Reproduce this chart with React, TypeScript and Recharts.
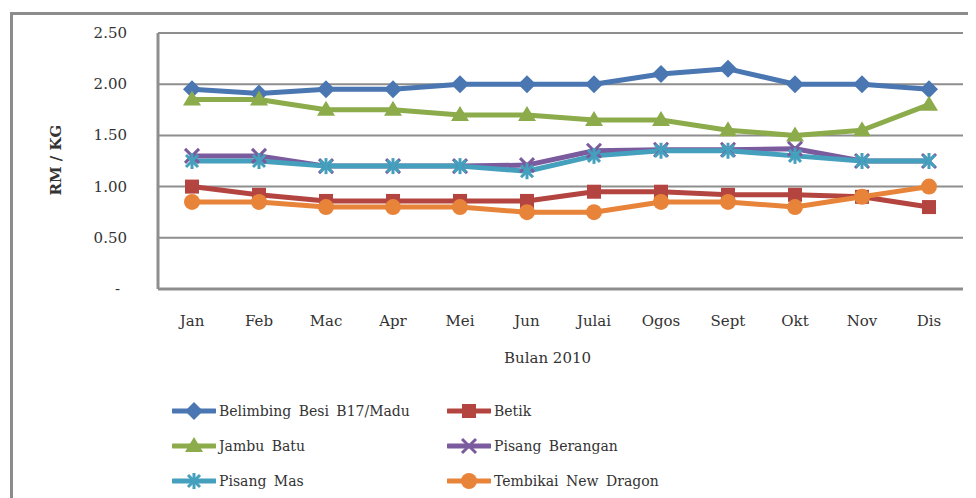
import { LineChart, Line, XAxis, YAxis, CartesianGrid } from "recharts";

const months = ["Jan", "Feb", "Mac", "Apr", "Mei", "Jun", "Julai", "Ogos", "Sept", "Okt", "Nov", "Dis"];
const belimbing = [1.95, 1.91, 1.95, 1.95, 2.0, 2.0, 2.0, 2.1, 2.15, 2.0, 2.0, 1.95];
const betik = [1.0, 0.92, 0.86, 0.86, 0.86, 0.86, 0.95, 0.95, 0.92, 0.92, 0.9, 0.8];
const jambuBatu = [1.85, 1.85, 1.75, 1.75, 1.7, 1.7, 1.65, 1.65, 1.55, 1.5, 1.55, 1.8];
const pisangBerangan = [1.3, 1.3, 1.2, 1.2, 1.2, 1.21, 1.35, 1.36, 1.36, 1.37, 1.25, 1.25];
const pisangMas = [1.25, 1.25, 1.2, 1.2, 1.2, 1.15, 1.3, 1.35, 1.35, 1.3, 1.25, 1.25];
const tembikai = [0.85, 0.85, 0.8, 0.8, 0.8, 0.75, 0.75, 0.85, 0.85, 0.8, 0.9, 1.0];
const yTicks = [0, 0.5, 1, 1.5, 2, 2.5];

const series = [
  { key: "belimbing", name: "Belimbing Besi B17/Madu", color: "#4a76b2", shape: "diamond", values: belimbing },
  { key: "betik", name: "Betik", color: "#b3443f", shape: "square", values: betik },
  { key: "jambu", name: "Jambu Batu", color: "#8cab4a", shape: "triangle", values: jambuBatu },
  { key: "berangan", name: "Pisang Berangan", color: "#7a5b9e", shape: "cross", values: pisangBerangan },
  { key: "mas", name: "Pisang Mas", color: "#44a0bd", shape: "star", values: pisangMas },
  { key: "tembikai", name: "Tembikai New Dragon", color: "#e8843a", shape: "circle", values: tembikai },
];

const chartData = months.map((m, i) => {
  const row: Record<string, string | number> = { month: m };
  series.forEach((s) => (row[s.key] = s.values[i]));
  return row;
});

const FONT = "'DejaVu Serif', serif";
const GRID = "#8e8e8e";

function Marker({ shape, color, cx, cy }: { shape: string; color: string; cx: number; cy: number }) {
  if (cx == null || cy == null) return null;
  switch (shape) {
    case "diamond":
      return <polygon points={`${cx},${cy - 9} ${cx + 9},${cy} ${cx},${cy + 9} ${cx - 9},${cy}`} fill={color} />;
    case "square":
      return <rect x={cx - 7} y={cy - 7} width={14} height={14} fill={color} />;
    case "triangle":
      return <polygon points={`${cx},${cy - 9} ${cx + 9},${cy + 6} ${cx - 9},${cy + 6}`} fill={color} />;
    case "circle":
      return <circle cx={cx} cy={cy} r={8} fill={color} />;
    case "cross":
      return (
        <g stroke={color} strokeWidth={3}>
          <line x1={cx - 7} y1={cy - 7} x2={cx + 7} y2={cy + 7} />
          <line x1={cx - 7} y1={cy + 7} x2={cx + 7} y2={cy - 7} />
        </g>
      );
    default:
      return (
        <g stroke={color} strokeWidth={3}>
          <line x1={cx - 6} y1={cy - 6} x2={cx + 6} y2={cy + 6} />
          <line x1={cx - 6} y1={cy + 6} x2={cx + 6} y2={cy - 6} />
          <line x1={cx} y1={cy - 8} x2={cx} y2={cy + 8} />
        </g>
      );
  }
}

const makeDot = (shape: string, color: string) => (p: any) => (
  <Marker key={`${shape}-${p.index}`} shape={shape} color={color} cx={p.cx} cy={p.cy} />
);

const XTick = (p: any) => (
  <text x={p.x} y={p.y + 37} textAnchor="middle" fontFamily={FONT} fontSize={15} fill="#333">
    {p.payload.value}
  </text>
);

const YTick = (p: any) => {
  const v = p.payload.value;
  return (
    <text x={v === 0 ? p.x - 7 : p.x} y={p.y + 5} textAnchor="end" fontFamily={FONT} fontSize={15} fill="#333">
      {v === 0 ? "-" : v.toFixed(2)}
    </text>
  );
};

function LegendItem({ s }: { s: (typeof series)[number] }) {
  return (
    <div style={{ display: "flex", alignItems: "center", height: 35 }}>
      <svg width={44} height={22} style={{ marginRight: 3 }}>
        <line x1={1} y1={11} x2={43} y2={11} stroke={s.color} strokeWidth={5} strokeLinecap="round" />
        <Marker shape={s.shape} color={s.color} cx={22} cy={11} />
      </svg>
      <span style={{ fontFamily: FONT, fontSize: 14, color: "#333", wordSpacing: 3 }}>{s.name}</span>
    </div>
  );
}

export default function App() {
  return (
    <div style={{ position: "relative", width: 968, height: 490, overflow: "hidden", background: "#fff" }}>
      <div
        style={{
          position: "absolute",
          left: 2,
          top: 4,
          width: 1100,
          height: 700,
          border: "3px solid #8c8c8c",
        }}
      />
      <div style={{ position: "absolute", left: 0, top: 0 }}>
        <LineChart width={968} height={490} data={chartData} margin={{ top: 25, right: 13, bottom: 129, left: 0 }}>
          <CartesianGrid vertical={false} stroke={GRID} strokeWidth={2} />
          <XAxis
            dataKey="month"
            axisLine={{ stroke: GRID, strokeWidth: 3 }}
            tickLine={false}
            tickSize={0}
            tickMargin={0}
            height={80}
            padding={{ left: 34, right: 34 }}
            tick={<XTick />}
            interval={0}
            label={{
              value: "Bulan 2010",
              position: "insideBottom",
              offset: 6,
              dx: -13,
              style: { fontFamily: FONT, fontSize: 15, fill: "#333" },
            }}
          />
          <YAxis
            domain={[0, 2.5]}
            ticks={yTicks}
            width={150}
            axisLine={{ stroke: GRID, strokeWidth: 3 }}
            tickLine={false}
            tickSize={0}
            tickMargin={31}
            tick={<YTick />}
            label={{
              content: () => (
                <text
                  x={53}
                  y={152}
                  transform="rotate(-90 53 152)"
                  textAnchor="middle"
                  fontFamily={FONT}
                  fontWeight="bold"
                  fontSize={15}
                  fill="#333"
                >
                  RM / KG
                </text>
              ),
            }}
          />
          {series.map((s) => (
            <Line
              key={s.key}
              dataKey={s.key}
              name={s.name}
              stroke={s.color}
              strokeWidth={5}
              strokeLinejoin="round"
              dot={makeDot(s.shape, s.color)}
              activeDot={false}
              isAnimationActive={false}
            />
          ))}
        </LineChart>
      </div>
      <div
        style={{
          position: "absolute",
          left: 164,
          top: 385,
          display: "grid",
          gridTemplateColumns: "275px 300px",
        }}
      >
        {series.map((s) => (
          <LegendItem key={s.key} s={s} />
        ))}
      </div>
    </div>
  );
}
